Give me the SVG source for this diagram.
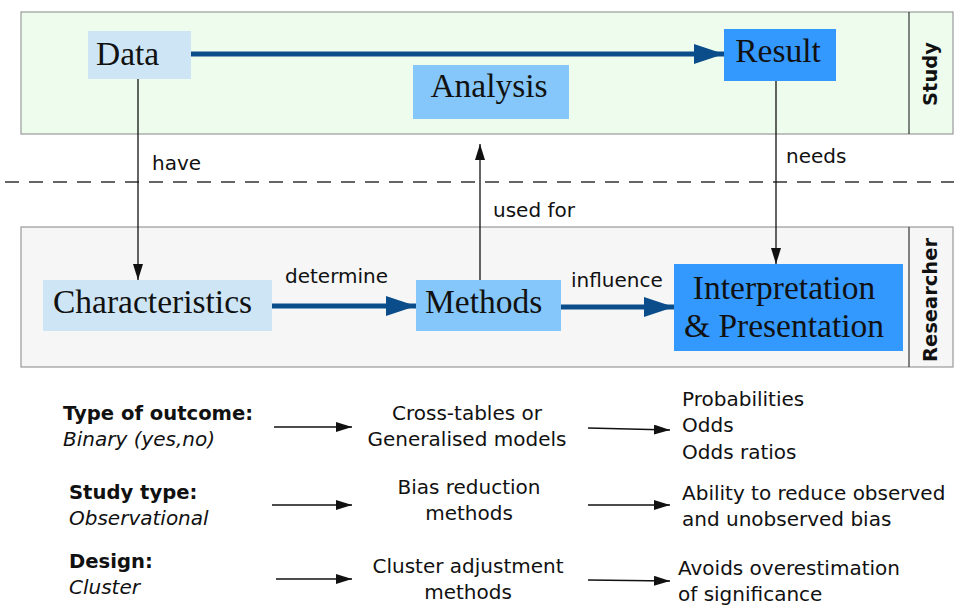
<svg xmlns="http://www.w3.org/2000/svg" width="954" height="606" viewBox="0 0 954 606">
<defs>
<style>
.band-study{fill:#eefcee;stroke:#9a9a9a;stroke-width:1.2}
.band-res{fill:#f6f6f6;stroke:#9a9a9a;stroke-width:1.2}
.divider{stroke:#333;stroke-width:1.2}
.lane{font-family:"DejaVu Sans","Liberation Sans",sans-serif;font-weight:bold;font-size:19.5px;fill:#111}
.node{font-family:"Liberation Serif","Times New Roman",serif;font-size:33.5px;fill:#111}
.lbl{font-family:"DejaVu Sans","Liberation Sans",sans-serif;font-size:20px;fill:#111}
.lb{font-weight:bold;font-size:19.6px}
.li{font-style:italic}
.thick{stroke:#0b4d8a;stroke-width:5;fill:none}
.thin{stroke:#111;stroke-width:1.3;fill:none}
.light{fill:#cde5f4}
.mid{fill:#85c7fa}
.dark{fill:#3399ff}
</style>
<marker id="bigArrow" viewBox="0 0 30 20" refX="30" refY="10" markerWidth="30" markerHeight="20" markerUnits="userSpaceOnUse" orient="auto">
<path d="M0,0 L30,10 L0,20 Z" fill="#0b4d8a"/>
</marker>
<marker id="smallArrow" viewBox="0 0 16 10" refX="16" refY="5" markerWidth="16" markerHeight="10" markerUnits="userSpaceOnUse" orient="auto">
<path d="M0,0 L16,5 L0,10 Z" fill="#111"/>
</marker>
</defs>
<rect width="954" height="606" fill="#ffffff"/>

<g id="lane-study">
<rect class="band-study" x="21" y="12" width="932" height="122"/>
<line class="divider" x1="909" y1="12" x2="909" y2="134"/>
<text class="lane" transform="translate(937,74) rotate(-90)" text-anchor="middle">Study</text>
</g>
<g id="lane-researcher">
<rect class="band-res" x="21" y="227" width="932" height="140"/>
<line class="divider" x1="909" y1="227" x2="909" y2="367"/>
<text class="lane" transform="translate(937,300) rotate(-90)" text-anchor="middle">Researcher</text>
</g>
<line x1="5" y1="182" x2="954" y2="182" stroke="#333" stroke-width="1.3" stroke-dasharray="14 10"/>

<g id="connectors">
<line class="thick" x1="191" y1="54" x2="724" y2="54" marker-end="url(#bigArrow)"/>
<line class="thick" x1="272" y1="306" x2="416" y2="306" marker-end="url(#bigArrow)"/>
<line class="thick" x1="561" y1="307" x2="674" y2="307" marker-end="url(#bigArrow)"/>
<line class="thin" x1="138" y1="79" x2="138" y2="280" marker-end="url(#smallArrow)"/>
<line class="thin" x1="480" y1="280" x2="480" y2="144" marker-end="url(#smallArrow)"/>
<line class="thin" x1="776" y1="81" x2="776" y2="264" marker-end="url(#smallArrow)"/>
<text class="lbl" x="152" y="170">have</text>
<text class="lbl" x="786" y="163">needs</text>
<text class="lbl" x="493" y="217">used for</text>
<text class="lbl" x="285" y="283">determine</text>
<text class="lbl" x="571" y="287">influence</text>
<line class="thin" x1="274" y1="427" x2="352" y2="427" marker-end="url(#smallArrow)"/>
<line class="thin" x1="588" y1="428" x2="670" y2="430" marker-end="url(#smallArrow)"/>
<line class="thin" x1="272" y1="505" x2="352" y2="505" marker-end="url(#smallArrow)"/>
<line class="thin" x1="588" y1="505" x2="670" y2="505" marker-end="url(#smallArrow)"/>
<line class="thin" x1="276" y1="579" x2="352" y2="579" marker-end="url(#smallArrow)"/>
<line class="thin" x1="588" y1="580" x2="670" y2="581" marker-end="url(#smallArrow)"/>
</g>

<g id="node-data">
<rect class="light" x="88" y="31" width="103" height="48"/>
<text class="node" x="96" y="65">Data</text>
</g>
<g id="node-analysis">
<rect class="mid" x="413" y="65" width="156" height="54"/>
<text class="node" x="489" y="97" text-anchor="middle">Analysis</text>
</g>
<g id="node-result">
<rect class="dark" x="724" y="29" width="112" height="52"/>
<text class="node" x="778" y="62" text-anchor="middle">Result</text>
</g>
<g id="node-characteristics">
<rect class="light" x="43" y="280" width="229" height="51"/>
<text class="node" x="53" y="313">Characteristics</text>
</g>
<g id="node-methods">
<rect class="mid" x="416" y="280" width="145" height="51"/>
<text class="node" x="425" y="313">Methods</text>
</g>
<g id="node-interpretation">
<rect class="dark" x="674" y="264" width="229" height="87"/>
<text class="node" x="784" y="299" text-anchor="middle">Interpretation</text>
<text class="node" x="784" y="337" text-anchor="middle">&amp; Presentation</text>
</g>

<g id="row-outcome">
<text class="lbl lb" x="63" y="420">Type of outcome:</text>
<text class="lbl li" x="63" y="446">Binary (yes,no)</text>
<text class="lbl" x="467" y="420" text-anchor="middle">Cross-tables or</text>
<text class="lbl" x="467" y="446" text-anchor="middle">Generalised models</text>
<text class="lbl" x="682" y="406">Probabilities</text>
<text class="lbl" x="682" y="432">Odds</text>
<text class="lbl" x="682" y="459">Odds ratios</text>
</g>
<g id="row-study">
<text class="lbl lb" x="69" y="499">Study type:</text>
<text class="lbl li" x="69" y="525">Observational</text>
<text class="lbl" x="469" y="494" text-anchor="middle">Bias reduction</text>
<text class="lbl" x="469" y="520" text-anchor="middle">methods</text>
<text class="lbl" x="682" y="500">Ability to reduce observed</text>
<text class="lbl" x="682" y="526">and unobserved bias</text>
</g>
<g id="row-design">
<text class="lbl lb" x="69" y="568">Design:</text>
<text class="lbl li" x="69" y="594">Cluster</text>
<text class="lbl" x="468" y="573" text-anchor="middle">Cluster adjustment</text>
<text class="lbl" x="468" y="599" text-anchor="middle">methods</text>
<text class="lbl" x="678" y="575">Avoids overestimation</text>
<text class="lbl" x="678" y="601">of significance</text>
</g>
</svg>
